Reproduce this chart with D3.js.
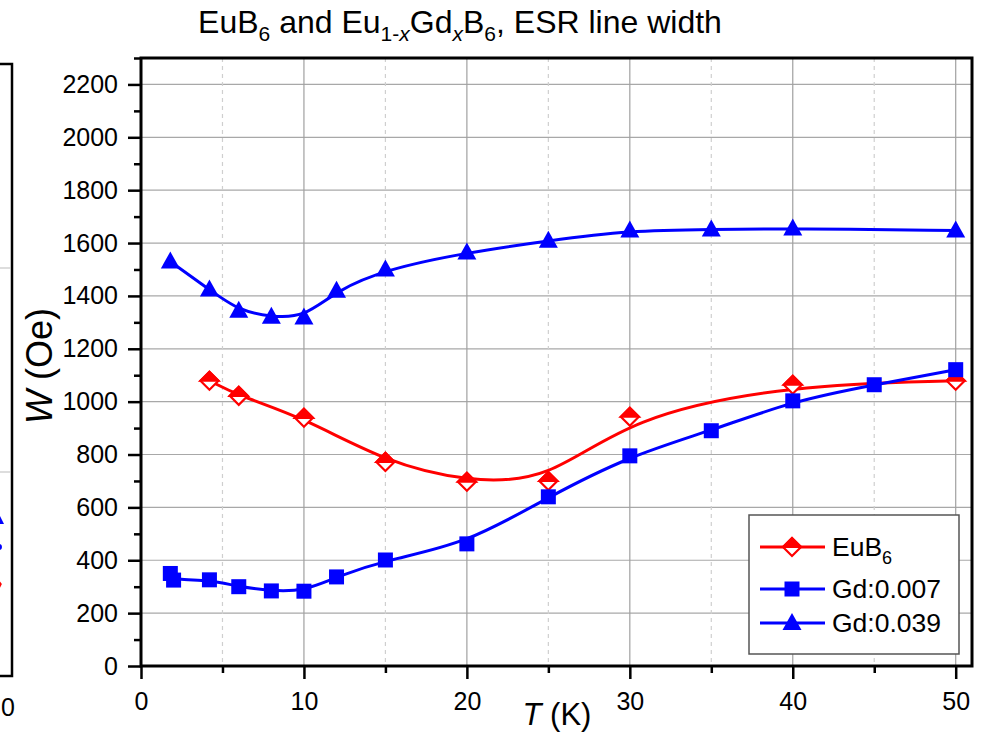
<!DOCTYPE html>
<html>
<head>
<meta charset="utf-8">
<script src="https://cdn.jsdelivr.net/npm/d3@7"></script>
<style>
  body { margin: 0; background: #fff; }
  text { font-family: "Liberation Sans", Arial, sans-serif; }
</style>
</head>
<body>
<script>
// ---- data ----
var euT   = [4.2, 6, 10, 15, 20, 25, 30, 40, 50];
var euW   = [1079, 1022, 939, 772, 697, 700, 943, 1064, 1079];

var gd007T = [1.8, 2.0, 4.2, 6, 8, 10, 12, 15, 20, 25, 30, 35, 40, 45, 50];
var gd007W = [350, 325, 326, 300, 284, 283, 337, 401, 462, 640, 795, 890, 1003, 1064, 1121];

var gd039T = [1.8, 4.2, 6, 8, 10, 12, 15, 20, 25, 30, 35, 40, 50];
var gd039W = [1530, 1424, 1344, 1321, 1318, 1420, 1500, 1564, 1609, 1647, 1651, 1655, 1647];

var xTicks = [0, 10, 20, 30, 40, 50];
var yTicks = [0, 200, 400, 600, 800, 1000, 1200, 1400, 1600, 1800, 2000, 2200];

var seriesNames = ["EuB6", "Gd:0.007", "Gd:0.039"];

_main = () => {
  var W = 986, H = 736;
  var left = 141, right = 972, top = 58, bottom = 666;

  var svg = d3.select("body").append("svg")
              .attr("width", W)
              .attr("height", H);

  var x = d3.scaleLinear().domain([0, 51]).range([left, right]);
  var y = d3.scaleLinear().domain([0, 2300]).range([bottom, top]);

  // piece of the neighbouring panel, cut off at the left edge
  var ghost = svg.append("g");
  ghost.append("rect").attr("x", -20).attr("y", 64).attr("width", 32).attr("height", 612)
       .attr("fill", "none").attr("stroke", "#000").attr("stroke-width", 2.5);
  [268, 472].forEach(function (gy) {
    ghost.append("line").attr("x1", 0).attr("x2", 11).attr("y1", gy).attr("y2", gy)
         .attr("stroke", "#bbb").attr("stroke-width", 1);
  });
  ghost.append("path").attr("d", "M-4,524 L0,516 L4,524 Z").attr("fill", "#0000ff");
  ghost.append("circle").attr("cx", -1).attr("cy", 547).attr("r", 3).attr("fill", "#0000ff");
  ghost.append("path").attr("d", "M-2,580 L1,584 L-2,590").attr("fill", "none").attr("stroke", "#ff0000").attr("stroke-width", 1.5);
  ghost.append("text").attr("x", 8).attr("y", 716).attr("text-anchor", "middle")
       .attr("font-size", 25).text("0");

  // grid
  var grid = svg.append("g");
  grid.selectAll(".hg").data(yTicks.concat([2300]).filter(d => d > 0))
      .enter().append("line")
      .attr("x1", left).attr("x2", right)
      .attr("y1", d => y(d)).attr("y2", d => y(d))
      .attr("stroke", "#a8a8a8").attr("stroke-width", 1.2);
  grid.selectAll(".vg").data(d3.range(5, 51, 5))
      .enter().append("line")
      .attr("y1", top).attr("y2", bottom)
      .attr("x1", d => x(d)).attr("x2", d => x(d))
      .attr("stroke", d => d % 10 === 0 ? "#a0a0a0" : "#cfcfcf")
      .attr("stroke-width", 1.2)
      .attr("stroke-dasharray", d => d % 10 === 0 ? null : "4,4");

  // axes
  var xAxis = d3.axisBottom(x).tickValues(xTicks).tickSize(13).tickPadding(13).tickFormat(d3.format("d"));
  var xMinor = d3.axisBottom(x).tickValues(d3.range(5, 51, 10)).tickSize(7).tickFormat("");
  var yAxis = d3.axisLeft(y).tickValues(yTicks).tickSize(13).tickPadding(10).tickFormat(d3.format("d"));
  var yMinor = d3.axisLeft(y).tickValues(d3.range(100, 2301, 200)).tickSize(7).tickFormat("");

  var gx = svg.append("g").attr("transform", "translate(0," + bottom + ")").call(xAxis);
  svg.append("g").attr("transform", "translate(0," + bottom + ")").call(xMinor)
     .call(g => g.select(".domain").remove());
  var gy = svg.append("g").attr("transform", "translate(" + left + ",0)").call(yAxis);
  svg.append("g").attr("transform", "translate(" + left + ",0)").call(yMinor)
     .call(g => g.select(".domain").remove());

  svg.selectAll(".tick line").attr("stroke", "#000").attr("stroke-width", 2.5);
  gx.selectAll("text").attr("font-size", 25).attr("fill", "#000");
  gy.selectAll("text").attr("font-size", 25).attr("fill", "#000");
  gx.select(".domain").remove();
  gy.select(".domain").remove();

  // frame
  svg.append("rect").attr("x", left).attr("y", top)
     .attr("width", right - left).attr("height", bottom - top)
     .attr("fill", "none").attr("stroke", "#000").attr("stroke-width", 3);

  // curves
  var line = d3.line().x(d => x(d[0])).y(d => y(d[1])).curve(d3.curveBasis);
  var eu  = euT.map((t, i) => [t, euW[i]]);
  var g7  = gd007T.map((t, i) => [t, gd007W[i]]);
  var g39 = gd039T.map((t, i) => [t, gd039W[i]]);

  var plot = svg.append("g");
  [[eu, "#ff0000"], [g7, "#0000ff"], [g39, "#0000ff"]].forEach(function (s) {
    plot.append("path").datum(s[0]).attr("d", line)
        .attr("fill", "none").attr("stroke", s[1]).attr("stroke-width", 3);
  });

  // markers
  function diamond(g, cx, cy) {
    var r = 9;
    g.append("path").attr("d", "M" + (cx - r) + "," + cy + " L" + cx + "," + (cy - r) + " L" + (cx + r) + "," + cy + " L" + cx + "," + (cy + r) + " Z")
     .attr("fill", "#fff").attr("stroke", "#ff0000").attr("stroke-width", 2.2);
    g.append("path").attr("d", "M" + (cx - r) + "," + cy + " L" + cx + "," + (cy - r) + " L" + (cx + r) + "," + cy + " Z")
     .attr("fill", "#ff0000").attr("stroke", "#ff0000").attr("stroke-width", 2.2);
  }
  function square(g, cx, cy) {
    g.append("rect").attr("x", cx - 7.5).attr("y", cy - 7.5).attr("width", 15).attr("height", 15)
     .attr("fill", "#0000ff");
  }
  function triangle(g, cx, cy) {
    g.append("path").attr("d", "M" + (cx - 9.5) + "," + (cy + 7) + " L" + cx + "," + (cy - 10) + " L" + (cx + 9.5) + "," + (cy + 7) + " Z")
     .attr("fill", "#0000ff");
  }
  eu.forEach(d => diamond(plot, x(d[0]), y(d[1])));
  g7.forEach(d => square(plot, x(d[0]), y(d[1])));
  g39.forEach(d => triangle(plot, x(d[0]), y(d[1])));

  // axis titles
  svg.append("text").attr("x", 557).attr("y", 725).attr("text-anchor", "middle")
     .attr("font-size", 31)
     .call(t => {
       t.append("tspan").attr("font-style", "italic").text("T");
       t.append("tspan").text(" (K)");
     });
  svg.append("text").attr("transform", "translate(52,366) rotate(-90)")
     .attr("text-anchor", "middle").attr("font-size", 36)
     .call(t => {
       t.append("tspan").attr("font-style", "italic").text("W");
       t.append("tspan").text(" (Oe)");
     });

  // title
  var title = svg.append("text").attr("x", 460).attr("y", 33).attr("text-anchor", "middle")
                 .attr("font-size", 32);
  function sub(t, str, italic) {
    t.append("tspan").attr("dy", 8).attr("font-size", 21).attr("font-style", italic ? "italic" : null).text(str);
  }
  title.append("tspan").text("EuB");
  sub(title, "6");
  title.append("tspan").attr("dy", -8).text(" and Eu");
  sub(title, "1-");
  title.append("tspan").attr("font-size", 21).attr("font-style", "italic").text("x");
  title.append("tspan").attr("dy", -8).text("Gd");
  sub(title, "x", true);
  title.append("tspan").attr("dy", -8).text("B");
  sub(title, "6");
  title.append("tspan").attr("dy", -8).text(", ESR line width");

  // legend
  var lg = svg.append("g");
  lg.append("rect").attr("x", 749).attr("y", 515).attr("width", 210).attr("height", 139)
    .attr("fill", "#fff").attr("stroke", "#555").attr("stroke-width", 1.5);
  var rows = [547, 589, 623];
  var colors = ["#ff0000", "#0000ff", "#0000ff"];
  var marks = [diamond, square, triangle];
  seriesNames.forEach(function (name, i) {
    lg.append("line").attr("x1", 760).attr("x2", 825).attr("y1", rows[i]).attr("y2", rows[i])
      .attr("stroke", colors[i]).attr("stroke-width", 3);
    marks[i](lg, 792, rows[i]);
    var t = lg.append("text").attr("x", 832).attr("y", rows[i] + 9).attr("font-size", 26.5);
    if (name === "EuB6") {
      t.append("tspan").text("EuB");
      t.append("tspan").attr("dy", 8).attr("font-size", 18).text("6");
    } else {
      t.text(name);
    }
  });
};

document.addEventListener("DOMContentLoaded", function () {
  _main();
});
</script>
</body>
</html>
